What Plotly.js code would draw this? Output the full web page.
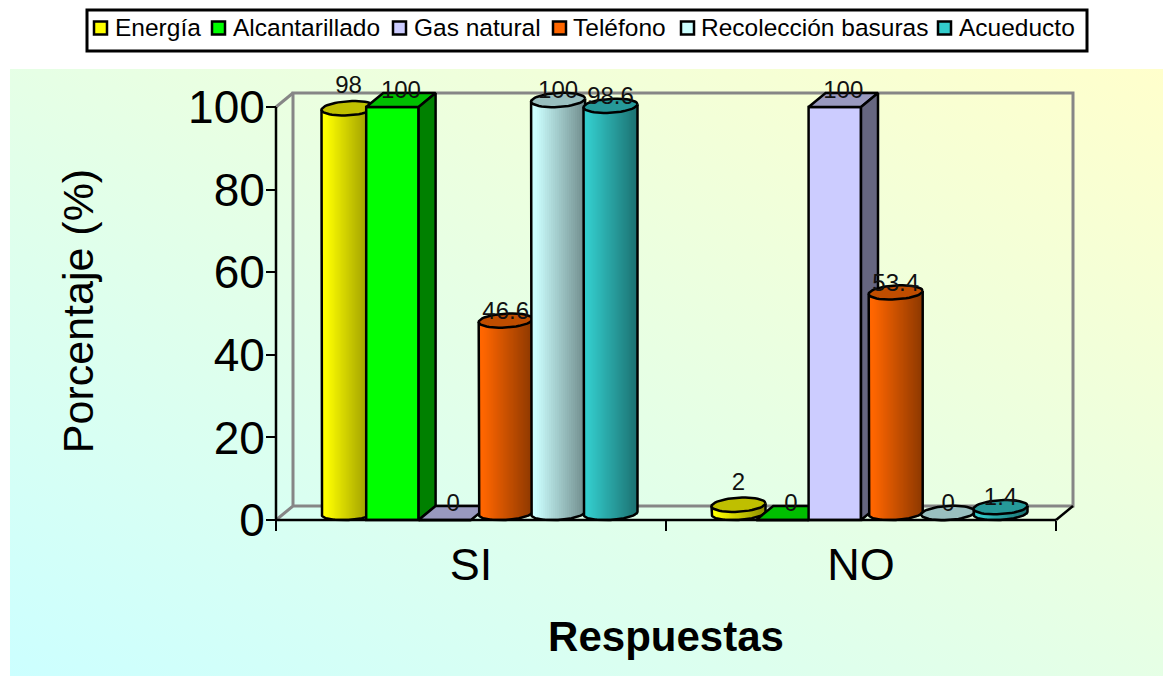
<!DOCTYPE html>
<html>
<head>
<meta charset="utf-8">
<script src="https://cdn.plot.ly/plotly-3.0.1.min.js"></script>
<style>
html,body{margin:0;padding:0;background:#fff;width:1163px;height:676px;overflow:hidden}
#bg{position:absolute;left:10px;top:69px;width:1153px;height:607px;background:linear-gradient(to top right,#ccffff,#ffffcc)}
#chart{position:absolute;left:0;top:0;width:1163px;height:676px}
</style>
</head>
<body>
<div id="bg"></div>
<div id="chart"></div>
<script>
// ---- data ----
const categories = ["SI", "NO"];
const seriesNames = ["Energía", "Alcantarillado", "Gas natural", "Teléfono", "Recolección basuras", "Acueducto"];
const energia = [98, 2];
const alcantarillado = [100, 0];
const gasNatural = [0, 100];
const telefono = [46.6, 53.4];
const recoleccion = [100, 0];
const acueducto = [98.6, 1.4];
const yTicks = [0, 20, 40, 60, 80, 100];

// ---- styles ----
const seriesValues = [energia, alcantarillado, gasNatural, telefono, recoleccion, acueducto];
const seriesShape = ["cyl", "box", "box", "cyl", "cyl", "cyl"];
const seriesColor = ["#ffff00", "#00ff00", "#ccccff", "#ff6600", "#ccffff", "#33cccc"];
const labelLift = [6.8, 3.6, 3.6, 3.6, 3.6, 3.6];

const W = 1163, H = 676;
// pixel frame of the front axes
const AL = 276, AR = 1056, AT = 107, AB = 520;
// pixel frame of the plotting area (larger, so the 3-D depth is not clipped)
const L = 257, R = 1075, T = 70, B = 552;
const pxX = 2 / (AR - AL), pxY = 100 / (AB - AT);
const dx = 17 * pxX, dy = 14 * pxY;           // 3-D depth
const barW = 52.4 * pxX;
const rx = 27 * pxX, ry = 7 * pxY, tilt = 1.5 * pxY;
const STRIPS = 27, ELL = 48;
const FONT = '"Liberation Sans", Arial, sans-serif';

function rgb(h){return [1,3,5].map(i=>parseInt(h.substr(i,2),16));}
function shade(h,f){const c=rgb(h);return 'rgb('+c.map(v=>Math.round(v*f)).join(',')+')';}
function cellCenter(cat,s){return cat+0.5+(s-2.5)*barW;}

const traces = [];
const lineStyle = {color:'#000',width:2.5};
function poly(xs,ys,fill,z,line){
  traces.push({type:'scatter',mode:'lines',x:xs,y:ys,fill:fill?'toself':'none',fillcolor:fill||undefined,
    line:line||lineStyle,hoverinfo:'skip',showlegend:false,cliponaxis:false,zorder:z});
}
// back wall
const wallLine={color:'#868686',width:3};
const d=dx,e=dy;
poly([0,d,2+d,2+d,d,d],[0,e,e,100+e,100+e,e],null,-1,wallLine);
poly([0,d],[100,100+e],null,-1,wallLine);
poly([2,2+d],[0,e],null,-1,lineStyle);

seriesValues.forEach((vals,s)=>{
  const col=seriesColor[s], z=s+1;
  if(seriesShape[s]==='box'){
    const x0=categories.map((c,i)=>cellCenter(i,s));
    traces.push({type:'bar',name:seriesNames[s],x:x0,y:vals,width:barW,cliponaxis:false,zorder:z,
      marker:{color:col,line:{color:'#000',width:2.5}},hoverinfo:'x+y',showlegend:false});
    vals.forEach((v,i)=>{
      const a=x0[i]-barW/2,b=x0[i]+barW/2;
      poly([a,a+d,b+d,b,a],[v,v+e,v+e,v,v],shade(col,0.75),z);
      if(v>0) poly([b,b+d,b+d,b,b],[0,e,v+e,v,0],shade(col,0.5),z);
    });
  }else{
    const cx=categories.map((c,i)=>cellCenter(i,s)+d/2);
    const cy=e/2;
    const c0=rgb(col),c1=c0.map(v=>v*0.55);
    const sw=2*rx/STRIPS;
    for(let k=0;k<STRIPS;k++){
      const u=(k+0.5)/STRIPS*2-1;
      const t=Math.max(0,((k+0.5)/STRIPS-0.08)/0.92);
      const c=c0.map((v,n)=>Math.round(v+(c1[n]-v)*t));
      traces.push({type:'bar',x:cx.map(x=>x+u*rx),y:vals,
        base:vals.map(()=>cy+tilt*u-ry*Math.sqrt(1-u*u)),
        width:k<STRIPS-1?sw*2:sw,offset:-sw/2,cliponaxis:false,zorder:z,
        marker:{color:'rgb('+c.join(',')+')',line:{width:0}},
        name:seriesNames[s],hoverinfo:'skip',showlegend:false});
    }
    vals.forEach((v,i)=>{
      const sx=[],sy=[];
      for(let k=0;k<=ELL;k++){
        const a=Math.PI-k/ELL*Math.PI;
        sx.push(cx[i]+rx*Math.cos(a));
        sy.push(cy+tilt*Math.cos(a)-ry*Math.sin(a));
      }
      sx.unshift(cx[i]-rx);sy.unshift(v+cy-tilt);
      sx.push(cx[i]+rx);sy.push(v+cy+tilt);
      if(v>0) poly(sx,sy,null,z);
      const tx=[],ty=[];
      for(let k=0;k<=ELL;k++){
        const a=k/ELL*2*Math.PI;
        tx.push(cx[i]+rx*Math.cos(a));
        ty.push(v+cy+tilt*Math.cos(a)+ry*Math.sin(a));
      }
      poly(tx,ty,shade(col,0.75),z);
    });
  }
});
// front axis lines
poly([0,2],[0,0],null,10,{color:'#000',width:2.5});
poly([0,0],[0,100],null,10,{color:'#000',width:2.5});
// data labels
seriesValues.forEach((vals,s)=>{
  traces.push({type:'scatter',mode:'text',
    x:categories.map((c,i)=>cellCenter(i,s)+d/2),
    y:vals.map(v=>v+labelLift[s]),
    text:vals.map(String),textposition:'middle center',
    textfont:{family:FONT,size:24,color:'#111'},
    hoverinfo:'skip',showlegend:false,cliponaxis:false,zorder:20});
});

// ---- manual legend (paper coordinates) ----
const fx=p=>(p-L)/(R-L), fy=p=>(B-p)/(B-T);
const shapes=[{type:'rect',xref:'paper',yref:'paper',x0:fx(87),x1:fx(1087),y0:fy(10),y1:fy(51),
  fillcolor:'#fff',line:{color:'#000',width:3}}];
const annotations=[];
const legendSwatchX=[94,212,393,553,681,938];
const legendTextX=[114,232,413,572,700,958];
seriesNames.forEach((n,i)=>{
  shapes.push({type:'rect',xref:'paper',yref:'paper',x0:fx(legendSwatchX[i]),x1:fx(legendSwatchX[i]+13),
    y0:fy(21.5),y1:fy(34.5),fillcolor:seriesColor[i],line:{color:'#000',width:2.5}});
  annotations.push({xref:'paper',yref:'paper',x:fx(legendTextX[i]),y:fy(27.5),text:n,showarrow:false,
    xanchor:'left',yanchor:'middle',font:{family:FONT,size:24.5,color:'#000'},borderpad:0});
});

const layout={
  width:W,height:H,autosize:false,
  paper_bgcolor:'rgba(0,0,0,0)',plot_bgcolor:'rgba(0,0,0,0)',
  margin:{l:L,r:W-R,t:T,b:H-B,pad:0},
  showlegend:false,barmode:'overlay',
  font:{family:FONT,color:'#000'},
  xaxis:{range:[(L-AL)*pxX,2+(R-AR)*pxX],tickmode:'array',tickvals:[0.5,1.5],ticktext:categories,ticks:'',
    anchor:'free',position:(B-AB)/(B-T),
    showgrid:false,zeroline:false,showline:false,
    tickfont:{family:FONT,size:45,color:'#000'},ticklabelstandoff:14,
    minor:{tickmode:'array',tickvals:[0,1,2],ticks:'outside',ticklen:10,tickwidth:2,tickcolor:'#000',showgrid:false},
    title:{text:'<b>Respuestas</b>',font:{family:FONT,size:42,color:'#000'},standoff:32}},
  yaxis:{range:[-(B-AB)*pxY,(AB-T)*pxY],tickmode:'array',tickvals:yTicks,ticks:'outside',ticklen:10,tickwidth:2,tickcolor:'#000',
    anchor:'free',position:(AL-L)/(R-L),
    showgrid:false,zeroline:false,showline:false,
    tickfont:{family:FONT,size:46,color:'#000'},ticklabelstandoff:-8,
    title:{text:'Porcentaje (%)',font:{family:FONT,size:43,color:'#000'},standoff:79}},
  shapes:shapes,annotations:annotations
};
Plotly.newPlot('chart',traces,layout,{displayModeBar:false,responsive:false});
</script>
</body>
</html>
